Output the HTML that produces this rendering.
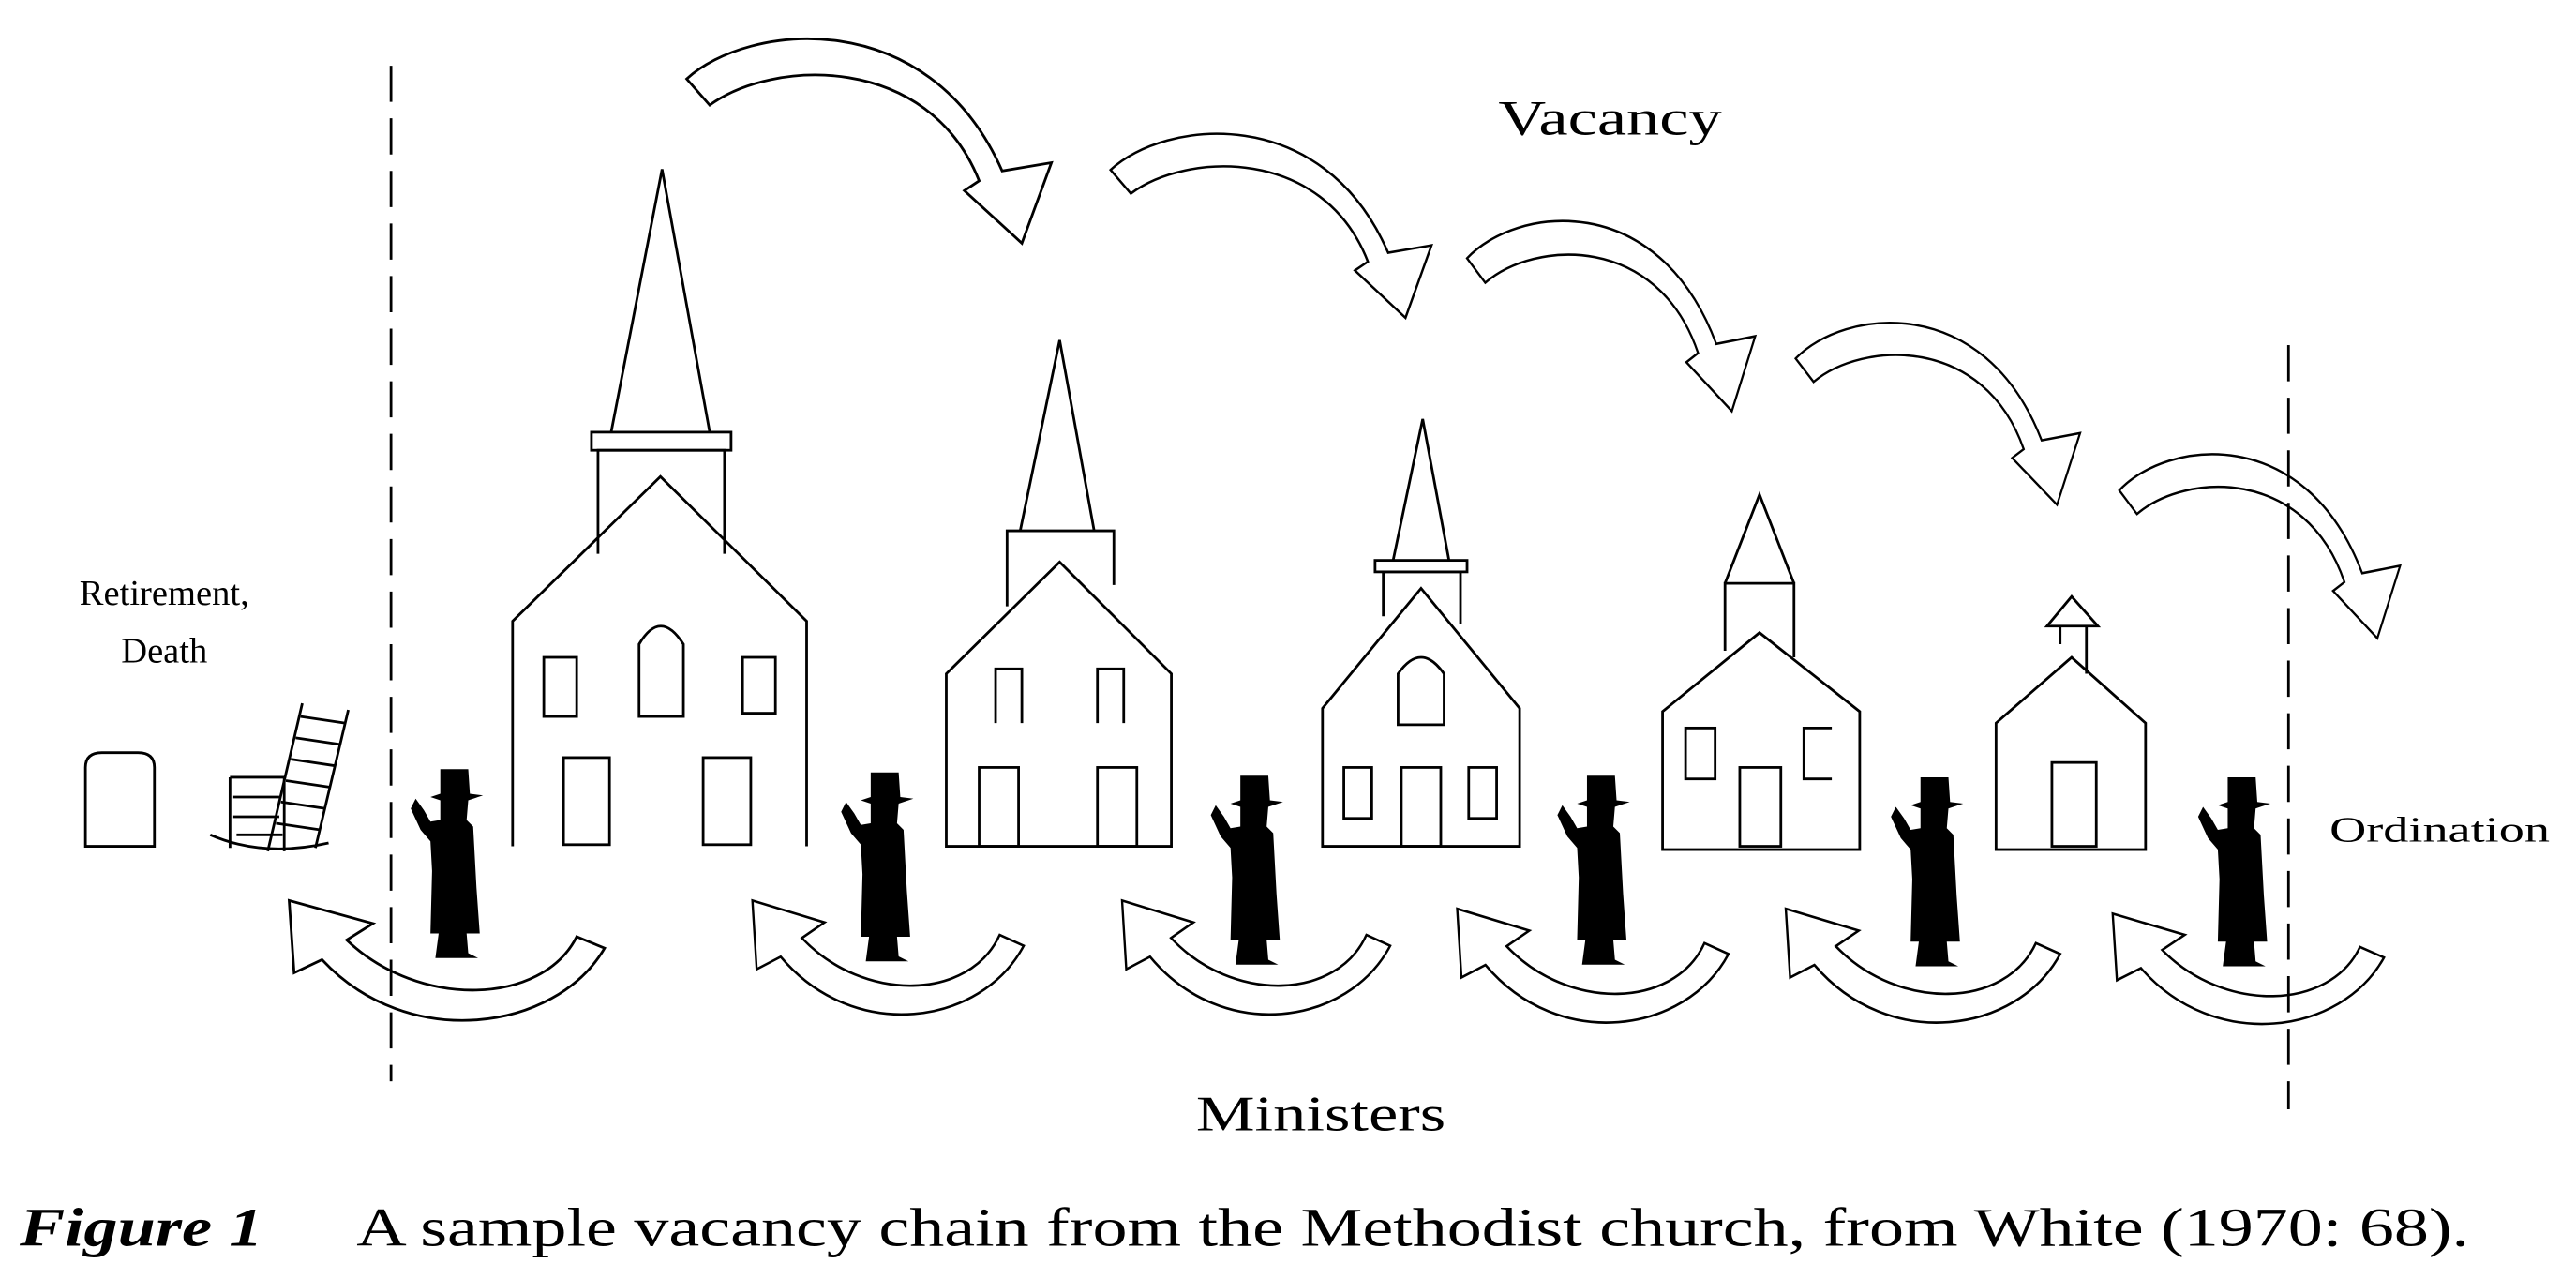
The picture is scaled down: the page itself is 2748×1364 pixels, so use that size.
<!DOCTYPE html>
<html><head><meta charset="utf-8"><style>
html,body{margin:0;padding:0;background:#fff;}
svg{display:block;}
</style></head><body>
<svg width="2748" height="1364" viewBox="0 0 1568 778.3" xmlns="http://www.w3.org/2000/svg">
<defs>
<path id="ta" d="M418,48 C455,14 565,2 610,104 L640,99 L622,148 L587,116 L596,110 C565,32 470,36 432,64 Z"/>
<path id="ba" d="M368,577 C338,628 248,640 196,584 L179,592 L176,548 L227,562 L211,572 C255,614 330,612 351,570 Z"/>
<path id="mn" d="M268,468 L285,468 L286,483 L294,484 L285,487 L284,499 L288,503 L290,540 L292,568 L284,568 L285,580 L291,583 L265,583 L267,568 L262,568 L263,530 L262,512 L256,505 L250,492 L253,486 L258,493 L262,500 L268,499 L268,487 L262,485 L268,483 Z"/>
</defs>
<rect width="1568" height="778.3" fill="#fff"/>
<g fill="none" stroke="#000" stroke-width="1.6">
<!-- dashed lines -->
<line x1="238" y1="40" x2="238" y2="658" stroke-dasharray="22,10"/>
<line x1="1393" y1="210" x2="1393" y2="675" stroke-dasharray="22,10"/>
<!-- top arrows -->
<use href="#ta"/>
<use href="#ta" transform="translate(676,80) scale(0.88,0.9) translate(-418,-22)"/>
<use href="#ta" transform="translate(893,133) scale(0.79,0.93) translate(-418,-22)"/>
<use href="#ta" transform="translate(1093,195) scale(0.78,0.89) translate(-418,-22)"/>
<use href="#ta" transform="translate(1290,275) scale(0.77,0.9) translate(-418,-22)"/>
<!-- bottom arrows -->
<use href="#ba"/>
<use href="#ba" transform="translate(458,548) scale(0.86,0.95) translate(-176,-548)"/>
<use href="#ba" transform="translate(683,548) scale(0.85,0.95) translate(-176,-548)"/>
<use href="#ba" transform="translate(887,553) scale(0.86,0.95) translate(-176,-548)"/>
<use href="#ba" transform="translate(1087,553) scale(0.87,0.95) translate(-176,-548)"/>
<use href="#ba" transform="translate(1286,556) scale(0.86,0.92) translate(-176,-548)"/>
<!-- church 1 -->
<path d="M312,515 L312,378 L402,290 L491,378 L491,515"/>
<path d="M364,337 L364,274 L441,274 L441,337"/>
<rect x="360" y="263" width="85" height="11"/>
<path d="M372,263 L403,103 L432,263"/>
<rect x="331" y="400" width="20" height="36"/>
<path d="M389,436 L389,392 Q402,370 416,392 L416,436 Z"/>
<rect x="452" y="400" width="20" height="34"/>
<rect x="343" y="461" width="28" height="53"/>
<rect x="428" y="461" width="29" height="53"/>
<!-- church 2 -->
<path d="M576,515 L576,410 L645,342 L713,410 L713,515 Z"/>
<path d="M613,369 L613,323 L678,323 L678,356"/>
<path d="M621,323 L645,207 L666,323"/>
<path d="M606,440 L606,407 L622,407 L622,440"/>
<path d="M668,440 L668,407 L684,407 L684,440"/>
<rect x="596" y="467" width="24" height="48"/>
<rect x="668" y="467" width="24" height="48"/>
<!-- church 3 -->
<path d="M805,515 L805,431 L865,358 L925,431 L925,515 Z"/>
<path d="M842,375 L842,348 L889,348 L889,380"/>
<rect x="837" y="341" width="56" height="7"/>
<path d="M848,341 L866,255 L882,341"/>
<path d="M851,441 L851,410 Q865,390 879,410 L879,441 Z"/>
<rect x="818" y="467" width="17" height="31"/>
<rect x="853" y="467" width="24" height="48"/>
<rect x="894" y="467" width="17" height="31"/>
<!-- church 4 -->
<path d="M1012,517 L1012,433 L1071,385 L1132,433 L1132,517 Z"/>
<path d="M1050,396 L1050,355 L1092,355 L1092,400"/>
<path d="M1050,355 L1071,301 L1092,355"/>
<rect x="1026" y="443" width="18" height="31"/>
<path d="M1115,443 L1098,443 L1098,474 L1115,474"/>
<rect x="1059" y="467" width="25" height="48"/>
<!-- church 5 -->
<path d="M1215,517 L1215,440 L1261,400 L1306,440 L1306,517 Z"/>
<path d="M1246,381 L1261,363 L1277,381 Z"/>
<path d="M1254,392 L1254,381 M1270,381 L1270,410"/>
<rect x="1249" y="464" width="27" height="51"/>
<!-- gravestone -->
<path d="M52,515 L52,467 Q52,458 62,458 L84,458 Q94,458 94,467 L94,515 Z"/>
<!-- rocking chair -->
<path d="M128,508 Q160,522 200,513"/>
<path d="M140,473 L140,516 M173,473 L173,518 M140,473 L173,473 M142,485 L170,485 M142,497 L170,497 M144,508 L172,508"/>
<path d="M184,428 L163,518 M212,432 L192,516"/>
<path d="M183,436 L210,440 M180,449 L207,453 M177,462 L204,466 M174,475 L201,479 M171,488 L198,492 M168,501 L195,505"/>
</g>
<g fill="#000">
<use href="#mn"/>
<use href="#mn" transform="translate(262,2)"/>
<use href="#mn" transform="translate(487,4)"/>
<use href="#mn" transform="translate(698,4)"/>
<use href="#mn" transform="translate(901,5)"/>
<use href="#mn" transform="translate(1088,5)"/>
</g>
<g font-family="'Liberation Serif', serif" fill="#000">
<text x="912" y="82" font-size="30" textLength="136" lengthAdjust="spacingAndGlyphs">Vacancy</text>
<text x="728" y="688" font-size="30" textLength="152" lengthAdjust="spacingAndGlyphs">Ministers</text>
<text x="100" y="368" font-size="22" text-anchor="middle">Retirement,</text>
<text x="100" y="403" font-size="22" text-anchor="middle">Death</text>
<text x="1418" y="512" font-size="22" textLength="134" lengthAdjust="spacingAndGlyphs">Ordination</text>
<text x="12" y="758" font-size="33" font-style="italic" font-weight="bold" textLength="148" lengthAdjust="spacingAndGlyphs">Figure 1</text>
<text x="217" y="758" font-size="33" textLength="1286" lengthAdjust="spacingAndGlyphs">A sample vacancy chain from the Methodist church, from White (1970: 68).</text>
</g>
</svg>
</body></html>
